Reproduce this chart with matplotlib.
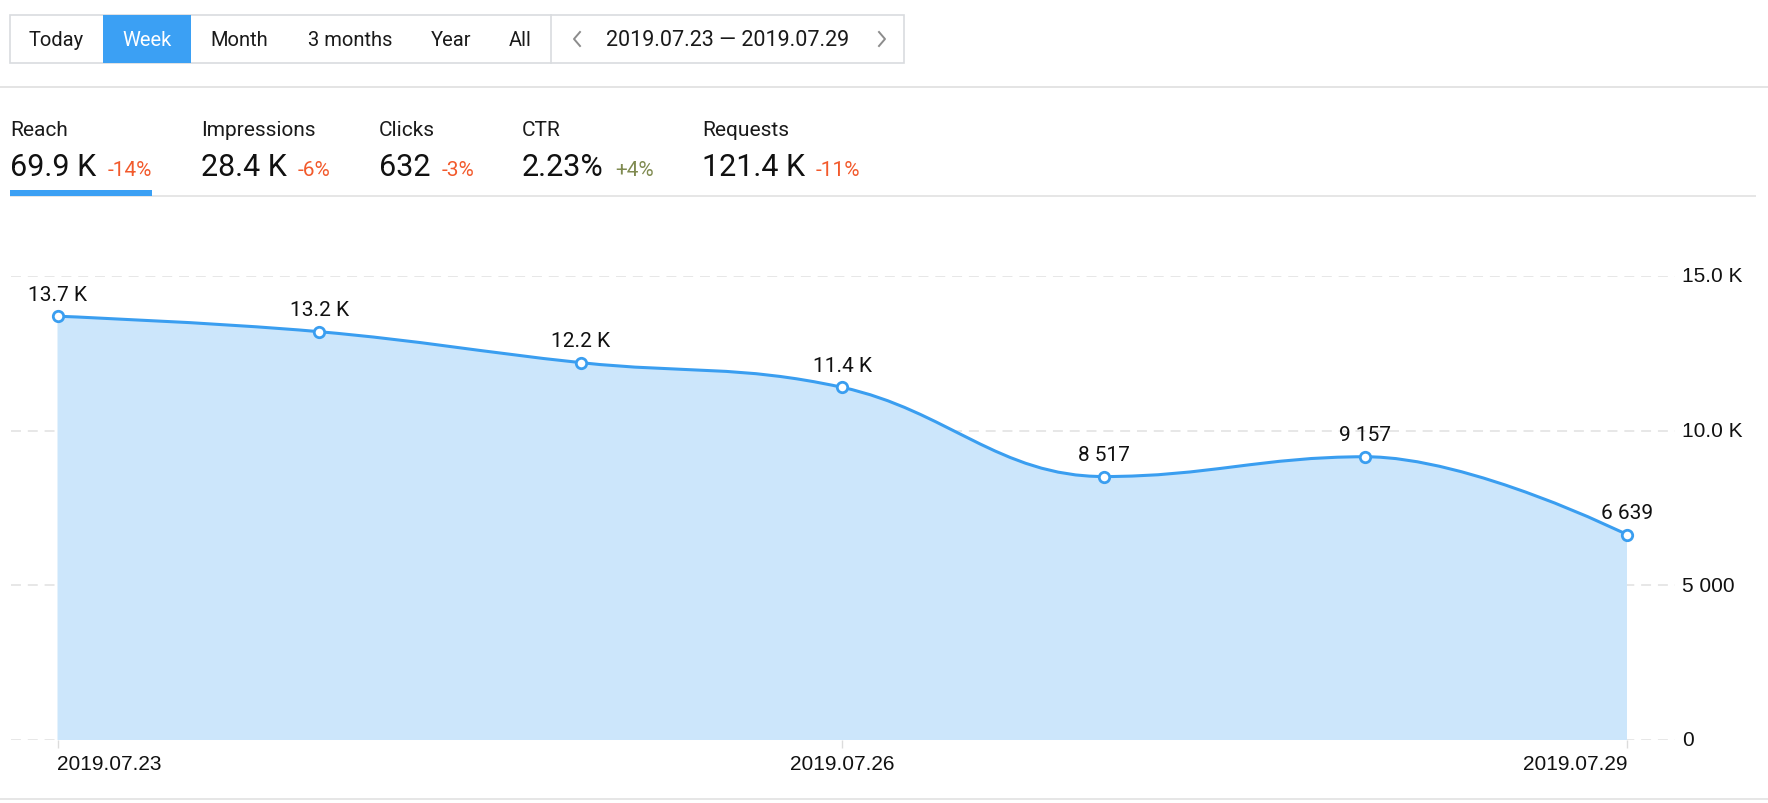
import matplotlib
matplotlib.use('Agg')
import matplotlib.pyplot as plt
from matplotlib.path import Path
from matplotlib.patches import PathPatch, Rectangle
from matplotlib.lines import Line2D

# tamanho da imagem em pixels
W, H = 1768, 804

# dados
periods = ['Today', 'Week', 'Month', '3 months', 'Year', 'All']
active_period = 'Week'
date_range = '2019.07.23 \u2014 2019.07.29'

metric_names = ['Reach', 'Impressions', 'Clicks', 'CTR', 'Requests']
metric_values = ['69.9 K', '28.4 K', '632', '2.23%', '121.4 K']
metric_changes = ['-14%', '-6%', '-3%', '+4%', '-11%']

days = ['2019.07.23', '2019.07.24', '2019.07.25', '2019.07.26',
        '2019.07.27', '2019.07.28', '2019.07.29']
reach = [13700, 13200, 12200, 11400, 8517, 9157, 6639]
shown_days = ['2019.07.23', '2019.07.26', '2019.07.29']
y_ticks = [0, 5000, 10000, 15000]

BLUE = '#3a9ef0'
FILL = '#cce6fb'
GRID = '#e0e0e0'
BORDER = '#d9dcdf'
RED = '#f25a2c'
OLIVE = '#7f8a50'
UI_FONT = ['Roboto', 'DejaVu Sans']
AX_FONT = ['Liberation Sans', 'DejaVu Sans']


def fmt(v):
    # formato dos rotulos: 13.7 K / 8 517
    if v >= 10000:
        return '%.1f K' % (v / 1000)
    return '{:,}'.format(v).replace(',', ' ')


def fx(x):
    return x / W


def fy(y):
    return 1 - y / H


def box(x0, y0, x1, y1, **kw):
    fig.add_artist(Rectangle((fx(x0), fy(y1)), (x1 - x0) / W, (y1 - y0) / H,
                             transform=fig.transFigure, **kw))


def line(xs, ys, **kw):
    fig.add_artist(Line2D([fx(x) for x in xs], [fy(y) for y in ys],
                          transform=fig.transFigure, **kw))


def spline(xs, ys, smoothing=1.5):
    # curva suave ao estilo do highcharts (bezier cubica)
    n = len(xs)
    left = [(x, y) for x, y in zip(xs, ys)]
    right = [(x, y) for x, y in zip(xs, ys)]
    d = smoothing + 1
    for i in range(1, n - 1):
        px, py = xs[i], ys[i]
        lx, ly = (smoothing * px + xs[i - 1]) / d, (smoothing * py + ys[i - 1]) / d
        rx, ry = (smoothing * px + xs[i + 1]) / d, (smoothing * py + ys[i + 1]) / d
        if rx != lx:
            corr = (ry - ly) * (rx - px) / (rx - lx) + py - ry
            ly += corr
            ry += corr
        if ly > ys[i - 1] and ly > py:
            ly = max(ys[i - 1], py)
            ry = 2 * py - ly
        elif ly < ys[i - 1] and ly < py:
            ly = min(ys[i - 1], py)
            ry = 2 * py - ly
        if ry > ys[i + 1] and ry > py:
            ry = max(ys[i + 1], py)
            ly = 2 * py - ry
        elif ry < ys[i + 1] and ry < py:
            ry = min(ys[i + 1], py)
            ly = 2 * py - ry
        left[i] = (lx, ly)
        right[i] = (rx, ry)
    verts = [(xs[0], ys[0])]
    codes = [Path.MOVETO]
    for i in range(1, n):
        verts += [right[i - 1], left[i], (xs[i], ys[i])]
        codes += [Path.CURVE4] * 3
    return verts, codes


fig = plt.figure(figsize=(W / 100, H / 100), dpi=100)

## barra de periodos
edges = [10, 103, 191, 288, 413, 489, 551]
box(10, 16, 904, 64, facecolor='white', edgecolor=BORDER, lw=1.2)
for i, p in enumerate(periods):
    ativo = p == active_period
    if ativo:
        box(edges[i], 16, edges[i + 1], 64, facecolor='#3ba0f4', edgecolor='none')
    fig.text(fx((edges[i] + edges[i + 1]) / 2), fy(40), p, ha='center', va='center',
             fontsize=14.5, family=UI_FONT, color='white' if ativo else '#1a1a1a')
line([551, 551], [16, 64], color=BORDER, lw=1.2)
fig.text(fx(728), fy(40), date_range, ha='center', va='center', fontsize=15.5,
         family=UI_FONT, color='#1a1a1a')
line([580, 574, 580], [33, 40, 47], color='#8c8c8c', lw=1.4)
line([879, 885, 879], [33, 40, 47], color='#8c8c8c', lw=1.4)
box(0, 87, W, 89, facecolor='#e4e4e4', edgecolor='none')

## metricas
renderer = fig.canvas.get_renderer()
metric_x = [10, 201, 379, 522, 702]
for x, nome, valor, var in zip(metric_x, metric_names, metric_values, metric_changes):
    fig.text(fx(x), fy(136), nome, ha='left', va='baseline', fontsize=15,
             family=UI_FONT, color='#1a1a1a')
    t = fig.text(fx(x), fy(176), valor, ha='left', va='baseline', fontsize=22,
                 family=UI_FONT, color='#111111')
    x1 = t.get_window_extent(renderer).x1
    fig.text(x1 / W + 11 / W, fy(176), var, ha='left', va='baseline', fontsize=15,
             family=UI_FONT, color=OLIVE if var.startswith('+') else RED)
box(10, 196, 1756, 198, facecolor='#e6e6e6', edgecolor='none')
box(10, 191, 152, 197, facecolor='#3ba0f4', edgecolor='none')
box(0, 799, W, 801, facecolor='#e6e6e6', edgecolor='none')

## grafico
ax = fig.add_axes([fx(11), fy(741), (1675 - 11) / W, (741 - 277) / H])
xs = list(range(len(reach)))
unit = (1627 - 57.5) / (len(xs) - 1)
ax.set_xlim(-(57.5 - 11) / unit, xs[-1] + (1675 - 1627) / unit)
ax.set_ylim(0, 15000)

for v in y_ticks:
    ax.axhline(v, color=GRID, lw=1.1, ls=(0, (6.5, 4.5)), zorder=0)

verts, codes = spline(xs, reach)
area = [(xs[0], 0)] + verts + [(xs[-1], 0), (xs[0], 0)]
area_codes = [Path.MOVETO, Path.LINETO] + codes[1:] + [Path.LINETO, Path.CLOSEPOLY]
ax.add_patch(PathPatch(Path(area, area_codes), facecolor=FILL, edgecolor='none', zorder=1))
ax.add_patch(PathPatch(Path(verts, codes), facecolor='none', edgecolor=BLUE,
                       lw=2.2, zorder=3, capstyle='round'))
ax.plot(xs, reach, 'o', ms=7.5, mfc='white', mec=BLUE, mew=2, zorder=4, clip_on=False)

for x, v in zip(xs, reach):
    ax.annotate(fmt(v), (x, v), xytext=(0, 12), textcoords='offset points',
                ha='center', va='baseline', fontsize=15, family=UI_FONT,
                color='#111111', annotation_clip=False)

for s in ax.spines.values():
    s.set_visible(False)

tick_pos = [days.index(d) for d in shown_days]
ax.set_xticks(tick_pos)
ax.set_xticklabels(shown_days, fontsize=15, family=AX_FONT, color='#111111')
for lbl, ha in zip(ax.get_xticklabels(), ['left', 'center', 'right']):
    lbl.set_ha(ha)
ax.tick_params(axis='x', length=6, width=1, color='#dcdcdc', pad=4)

ax.yaxis.tick_right()
ax.set_yticks(y_ticks)
ax.set_yticklabels([fmt(v) if v else '0' for v in y_ticks], fontsize=15,
                   family=AX_FONT, color='#111111')
ax.tick_params(axis='y', length=0, pad=5)
for lbl in ax.get_yticklabels():
    lbl.set_va('center')

fig.savefig('out.png', dpi=100)
